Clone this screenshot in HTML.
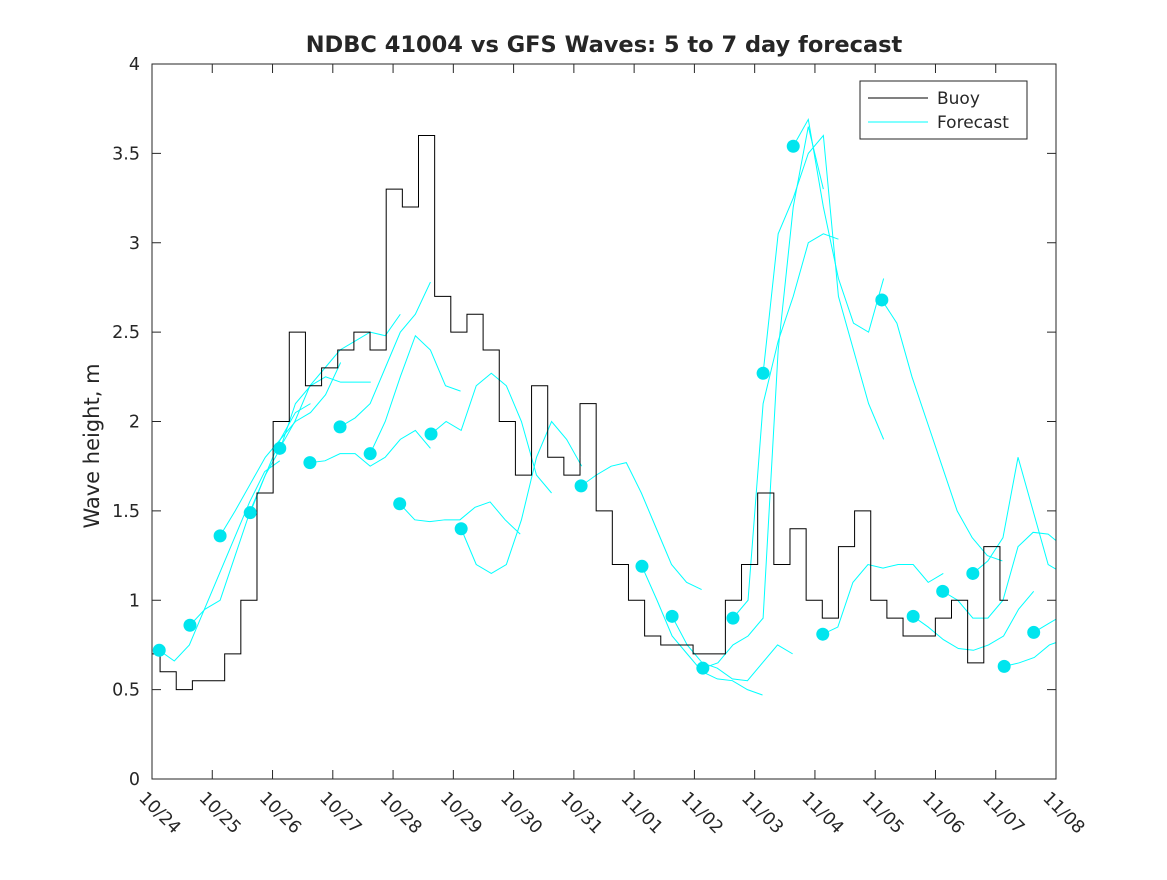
<!DOCTYPE html>
<html><head><meta charset="utf-8"><style>
body{margin:0;background:#fff;font-family:"Liberation Sans","DejaVu Sans",sans-serif}
svg text{font-family:"DejaVu Sans","Liberation Sans",sans-serif;fill:#262626}
</style></head><body>
<svg id="c" width="1167" height="875"></svg>
<script>
const dateLabels=["10/24","10/25","10/26","10/27","10/28","10/29","10/30","10/31","11/01","11/02","11/03","11/04","11/05","11/06","11/07","11/08"];
const yTicks=[0,0.5,1,1.5,2,2.5,3,3.5,4];
const buoyStep=0.268;
const buoyValues=[0.7,0.6,0.5,0.55,0.55,0.7,1.0,1.6,2.0,2.5,2.2,2.3,2.4,2.5,2.4,3.3,3.2,3.6,2.7,2.5,2.6,2.4,2.0,1.7,2.2,1.8,1.7,2.1,1.5,1.2,1.0,0.8,0.75,0.75,0.7,0.7,1.0,1.2,1.6,1.2,1.4,1.0,0.9,1.3,1.5,1.0,0.9,0.8,0.8,0.9,1.0,0.65,1.3,1.0];
const fcStarts=[0.12,0.63,1.13,1.63,2.12,2.62,3.12,3.62,4.11,4.63,5.13,7.12,8.13,8.63,9.14,9.64,10.14,10.64,11.13,12.11,12.63,13.12,13.62,14.14,14.63];
const fcValues=[
[0.72,0.66,0.75,0.95,1.15,1.35,1.55,1.72,1.78],
[0.86,0.95,1.0,1.25,1.5,1.7,1.9,2.05,2.1],
[1.36,1.5,1.65,1.8,1.9,2.0,2.05,2.15,2.33],
[1.49,1.7,1.85,2.1,2.2,2.25,2.22,2.22,2.22],
[1.85,2.0,2.2,2.3,2.4,2.45,2.5,2.48,2.6],
[1.77,1.78,1.82,1.82,1.75,1.8,1.9,1.95,1.85],
[1.97,2.02,2.1,2.3,2.5,2.6,2.78],
[1.82,2.0,2.25,2.48,2.4,2.2,2.17],
[1.54,1.45,1.44,1.45,1.45,1.52,1.55,1.45,1.37],
[1.93,2.0,1.95,2.2,2.27,2.2,2.0,1.7,1.6],
[1.40,1.2,1.15,1.2,1.45,1.8,2.0,1.9,1.75],
[1.64,1.7,1.75,1.77,1.6,1.4,1.2,1.1,1.06],
[1.19,1.0,0.8,0.7,0.6,0.56,0.55,0.5,0.47],
[0.91,0.75,0.65,0.62,0.56,0.55,0.65,0.75,0.7],
[0.62,0.65,0.75,0.8,0.9,2.4,3.2,3.65,3.3],
[0.90,1.0,2.1,2.45,2.7,3.0,3.05,3.02],
[2.27,3.05,3.25,3.5,3.6,2.7,2.4,2.1,1.9],
[3.54,3.69,3.2,2.8,2.55,2.5,2.8],
[0.81,0.85,1.1,1.2,1.18,1.2,1.2,1.1,1.15],
[2.68,2.55,2.25,2.0,1.75,1.5,1.35,1.25,1.22],
[0.91,0.85,0.78,0.73,0.72,0.75,0.8,0.95,1.05],
[1.05,1.0,0.9,0.9,1.0,1.3,1.38,1.37,1.3],
[1.15,1.22,1.35,1.8,1.5,1.2,1.15,1.05],
[0.63,0.65,0.68,0.75,0.78,0.82,0.9],
[0.82,0.87,0.92]];
const fcStep=0.25;
const L=152,R=1056,T=64,B=779,NS="http://www.w3.org/2000/svg";
const xS=t=>L+t*(R-L)/15, yS=v=>B-v*(B-T)/4;
const svg=document.getElementById('c');
function mk(tag,at,parent){const e=document.createElementNS(NS,tag);for(const k in at)e.setAttribute(k,at[k]);(parent||svg).appendChild(e);return e;}
const defs=mk('defs',{});const cp=mk('clipPath',{id:'clip'},defs);mk('rect',{x:L,y:T,width:R-L,height:B-T},cp);
const title=mk('text',{x:604,y:52,'text-anchor':'middle','font-size':22.5,'font-weight':'bold'});title.textContent='NDBC 41004 vs GFS Waves: 5 to 7 day forecast';


const yl=mk('text',{x:0,y:0,transform:'translate(99,446) rotate(-90)','text-anchor':'middle','font-size':21});yl.textContent='Wave height, m';


mk('rect',{x:L,y:T,width:R-L,height:B-T,fill:'#fff',stroke:'none'});
yTicks.forEach(v=>{const y=yS(v);mk('line',{x1:L,x2:L+9,y1:y,y2:y,stroke:'#262626'});mk('line',{x1:R-9,x2:R,y1:y,y2:y,stroke:'#262626'});
const t=mk('text',{x:140,y:y+6,'text-anchor':'end','font-size':17.5});t.textContent=v;

});
dateLabels.forEach((d,i)=>{const x=xS(i);mk('line',{x1:x,x2:x,y1:B,y2:B-9,stroke:'#262626'});mk('line',{x1:x,x2:x,y1:T,y2:T+9,stroke:'#262626'});
const t=mk('text',{x:0,y:0,transform:`translate(${x-14},${B+20}) rotate(45)`,'font-size':17.5});t.textContent=d;

});
const g=mk('g',{'clip-path':'url(#clip)'});
fcStarts.forEach((s,i)=>{const pts=fcValues[i].map((v,j)=>xS(s+j*fcStep)+','+yS(v)).join(' ');
const pl=mk('polyline',{points:pts,fill:'none',stroke:'#00ffff','stroke-width':1},g);

});
let bp='';buoyValues.forEach((v,i)=>{const x=xS(i*buoyStep),y=yS(v);if(i===0)bp+=`M${x},${y}`;else bp+=`H${(x+xS((i-1)*buoyStep))/2}V${y}`;});
bp+=`H${xS((buoyValues.length-1)*buoyStep)}`;
const bl=mk('path',{d:bp,fill:'none',stroke:'#000','stroke-width':1},g);


fcStarts.forEach((s,i)=>{const c=mk('circle',{cx:xS(s),cy:yS(fcValues[i][0]),r:6.5,fill:'#00e5ee'},g);

});
mk('rect',{x:L,y:T,width:R-L,height:B-T,fill:'none',stroke:'#262626'});
const lg=mk('g',{});
mk('rect',{x:860,y:81,width:167,height:58,fill:'#fff',stroke:'#262626'},lg);
mk('line',{x1:868,x2:928,y1:98,y2:98,stroke:'#000'},lg);
mk('line',{x1:868,x2:928,y1:122,y2:122,stroke:'#00ffff'},lg);
const t1=mk('text',{x:937,y:104,'font-size':17},lg);t1.textContent='Buoy';
const t2=mk('text',{x:937,y:128,'font-size':17},lg);t2.textContent='Forecast';
</script>
</body></html>
